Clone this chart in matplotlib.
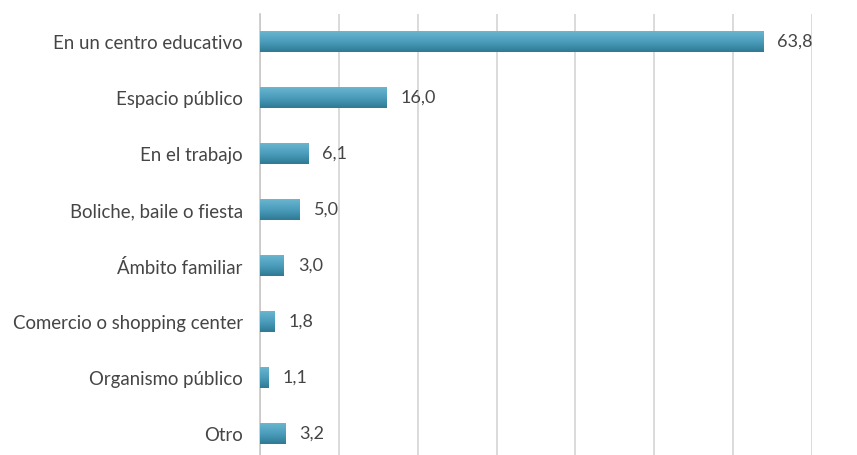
import matplotlib.pyplot as plt
import numpy as np
from matplotlib.colors import LinearSegmentedColormap

categories = [
    "En un centro educativo",
    "Espacio público",
    "En el trabajo",
    "Boliche, baile o fiesta",
    "Ámbito familiar",
    "Comercio o shopping center",
    "Organismo público",
    "Otro",
]
values = [63.8, 16.0, 6.1, 5.0, 3.0, 1.8, 1.1, 3.2]
value_labels = ["63,8", "16,0", "6,1", "5,0", "3,0", "1,8", "1,1", "3,2"]

plt.rcParams["font.family"] = ["Lato", "DejaVu Sans"]

fig = plt.figure(figsize=(8.57, 4.55), dpi=100)
fig.set_facecolor("white")
ax = fig.add_axes([260 / 857, -7 / 455, 552 / 857, 448 / 455])

y = np.arange(len(categories))
bars = ax.barh(y, values, height=0.36, color="none", zorder=3)

# vertical gradient fill, light on top and dark at the bottom
grad = LinearSegmentedColormap.from_list("bar", ["#2f7a93", "#4a9dbc", "#6bb5cf"])
for bar in bars:
    x0, y0 = bar.get_x(), bar.get_y()
    w, h = bar.get_width(), bar.get_height()
    ax.imshow(
        np.linspace(0, 1, 64).reshape(-1, 1),
        cmap=grad,
        extent=(x0, x0 + w, y0 + h, y0),
        aspect="auto",
        origin="lower",
        zorder=3,
    )

for yi, v, lab in zip(y, values, value_labels):
    ax.text(v + 1.8, yi, lab, va="center", ha="left", fontsize=13, color="#454545")

ax.set_xlim(0, 70)
ax.set_ylim(len(categories) - 0.5, -0.5)
ax.set_xticks(np.arange(0, 71, 10))
ax.xaxis.grid(True, color="#d4d4d4", linewidth=1.2, zorder=0)
ax.tick_params(axis="x", bottom=False, labelbottom=False)
ax.tick_params(axis="y", left=False, pad=9, labelsize=13.4, labelcolor="#454545")
ax.set_yticks(y)
ax.set_yticklabels(categories)
for side in ["top", "right", "bottom"]:
    ax.spines[side].set_visible(False)
ax.spines["left"].set_color("#c8c8c8")
ax.spines["left"].set_linewidth(1.2)

fig.savefig("out.png", dpi=100, facecolor="white")
